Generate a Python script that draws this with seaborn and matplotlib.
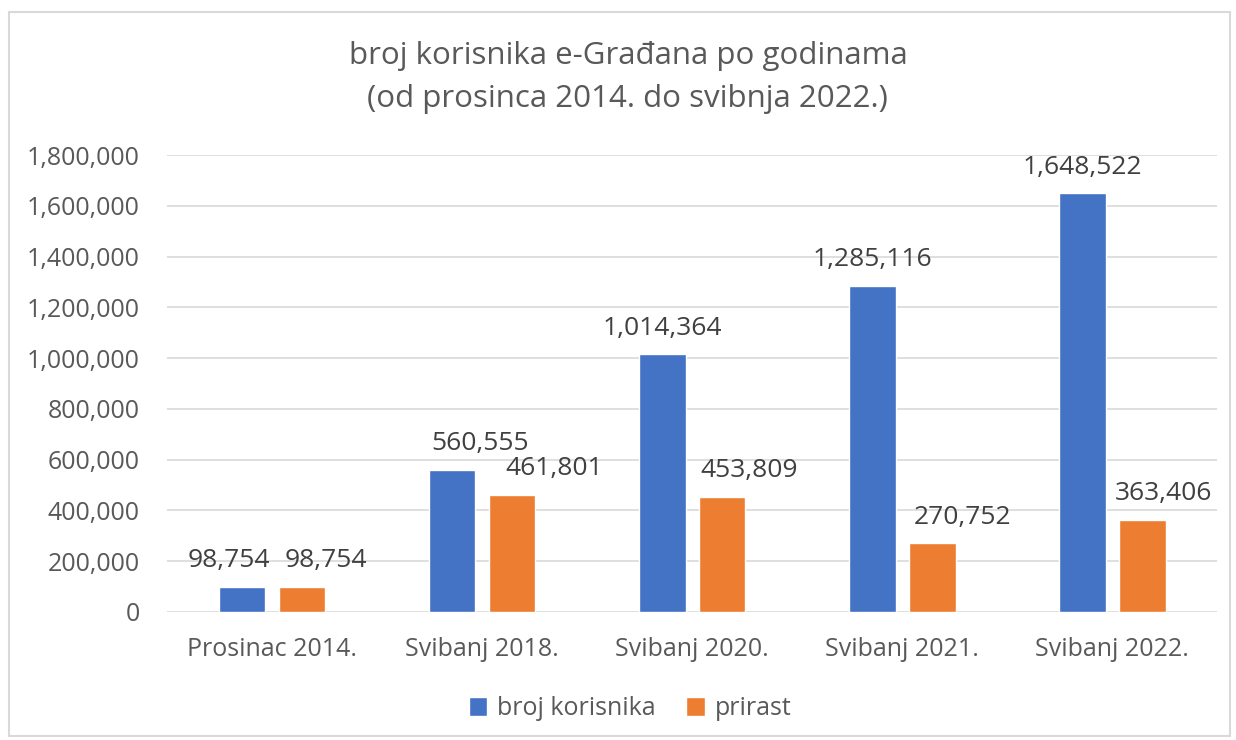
import numpy as np
import pandas as pd
import seaborn as sns
from matplotlib import pyplot as plt
from matplotlib.patches import Rectangle
from matplotlib.ticker import FuncFormatter

# Podaci
razdoblja = ['Prosinac 2014.', 'Svibanj 2018.', 'Svibanj 2020.', 'Svibanj 2021.', 'Svibanj 2022.']
broj_korisnika = [98754, 560555, 1014364, 1285116, 1648522]
prirast = [98754, 461801, 453809, 270752, 363406]
serije = ['broj korisnika', 'prirast']
boje = ['#4472C4', '#ED7D31']

# horizontalni pomaci oznaka (px), kao u Excelu
pomaci_oznaka = [[-13, 28, 0, 0, 0],
                 [24, 42, 27, 30, 21]]

df = pd.DataFrame({'razdoblje': razdoblja,
                   'broj korisnika': broj_korisnika,
                   'prirast': prirast})
df = df.melt(id_vars=['razdoblje'], value_vars=serije, var_name='serija', value_name='vrijednost')

sns.set_theme(style='white')
plt.rcParams['font.family'] = ['Open Sans', 'DejaVu Sans']

fig = plt.figure(figsize=(12.36, 7.4), dpi=100)
ax = fig.add_axes([0.135, 0.173, 0.85, 0.6175])

sns.barplot(data=df, x='razdoblje', y='vrijednost', hue='serija',
            hue_order=serije, palette=boje, width=0.57, gap=0.22,
            saturation=1, ax=ax, legend=True)

for container, pomaci in zip(ax.containers, pomaci_oznaka):
    for bar, v, dx in zip(container, container.datavalues, pomaci):
        ax.annotate(f'{v:,.0f}', xy=(bar.get_x() + bar.get_width() / 2, bar.get_height()),
                    xytext=(dx, 26), textcoords='offset pixels',
                    ha='center', va='center', fontsize=19, color='#404040')

ax.set_ylim(0, 1800000)
ax.set_xlim(-0.5, 4.5)
ax.set_yticks(np.arange(0, 1800001, 200000))
ax.yaxis.set_major_formatter(FuncFormatter(lambda v, p: f'{v:,.0f}'))
ax.grid(axis='y', color='#D9D9D9', linewidth=1.2)
ax.set_axisbelow(True)
sns.despine(ax=ax, left=True, bottom=True)
ax.tick_params(axis='both', length=0, labelsize=18, labelcolor='#595959')
ax.tick_params(axis='x', pad=18)
ax.tick_params(axis='y', pad=19.5)
ax.set(xlabel='', ylabel='')

ax.legend(loc='center', bbox_to_anchor=(0.441, -0.212), ncol=2, frameon=False,
          fontsize=18, handlelength=0.75, handleheight=0.75, handletextpad=0.4,
          columnspacing=1.2, labelcolor='#595959')

fig.suptitle('broj korisnika e-Građana po godinama\n(od prosinca 2014. do svibnja 2022.)',
             x=0.508, y=0.945, fontsize=22.5, color='#595959', linespacing=1.6)

fig.patches.append(Rectangle((0.007, 0.005), 0.988, 0.979, transform=fig.transFigure,
                             fill=False, edgecolor='#D9D9D9', linewidth=1.5))

plt.savefig('out.png', dpi=100)
